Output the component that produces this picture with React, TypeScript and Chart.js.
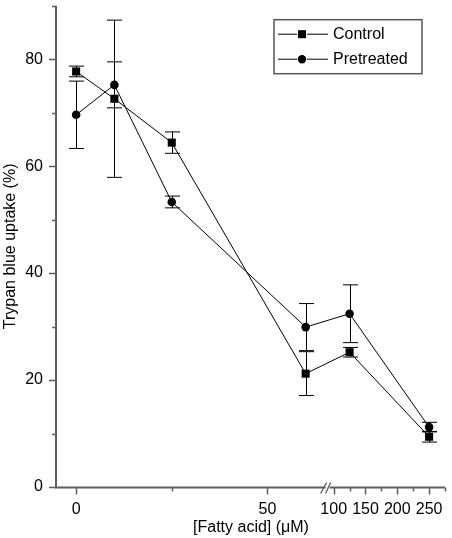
import React, { useEffect, useRef } from 'react';
import { Chart, registerables, LinearScale } from 'chart.js';

Chart.register(...registerables);

// ---- data ----
const X_VALUES = [0, 10, 25, 60, 125, 250];
const CONTROL = [77.7, 72.6, 64.4, 21.2, 25.2, 9.4];
const CONTROL_ERR = [1.0, 14.7, 2.0, 4.1, 0.9, 1.0];
const PRETREATED = [69.6, 75.2, 53.3, 29.9, 32.4, 11.2];
const PRETREATED_ERR = [6.3, 4.3, 1.1, 4.4, 5.4, 0.9];
const SERIES_LABELS = ['Control', 'Pretreated'];
const X_MAJOR_TICKS = [0, 50, 100, 150, 200, 250];
const X_MINOR_TICKS = [25, 125, 175, 225, 275];
const Y_MAJOR_TICKS = [0, 20, 40, 60, 80];
const Y_MINOR_TICKS = [10, 30, 50, 70, 90];
const X_TITLE = '[Fatty acid] (\u03bcM)';
const Y_TITLE = 'Trypan blue uptake (%)';

// ---- broken axis configuration ----
const X_MIN = -5;
const X_MAX = 275;
const BREAK_LOW = 66;
const BREAK_HIGH = 92;
const SPLIT_FRAC = 0.7;

const FONT = '"Liberation Sans", Arial, Helvetica, sans-serif';
const AXIS_COLOR = '#5e5e5e';

class BrokenScale extends LinearScale {
  static id = 'broken';
  static defaults = LinearScale.defaults;
  buildTicks() {
    return [...X_MAJOR_TICKS, ...X_MINOR_TICKS]
      .sort((a, b) => a - b)
      .map((v) => ({ value: v }));
  }
  splitPixel() {
    return this.left + this.width * SPLIT_FRAC;
  }
  getPixelForValue(value: any) {
    const v = Number(value);
    const s = this.splitPixel();
    if (v <= (BREAK_LOW + BREAK_HIGH) / 2) {
      return this.left + ((v - X_MIN) / (BREAK_LOW - X_MIN)) * (s - this.left);
    }
    return s + ((v - BREAK_HIGH) / (X_MAX - BREAK_HIGH)) * (this.right - s);
  }
  getValueForPixel(pixel: number) {
    const s = this.splitPixel();
    if (pixel <= s) {
      return X_MIN + ((pixel - this.left) / (s - this.left)) * (BREAK_LOW - X_MIN);
    }
    return BREAK_HIGH + ((pixel - s) / (this.right - s)) * (X_MAX - BREAK_HIGH);
  }
}
Chart.register(BrokenScale as any);

const errorBarPlugin = {
  id: 'errorBars',
  beforeDatasetsDraw(chart: any) {
    const { ctx } = chart;
    const xs = chart.scales.x;
    const ys = chart.scales.y;
    const sets = [
      [CONTROL, CONTROL_ERR],
      [PRETREATED, PRETREATED_ERR],
    ];
    ctx.save();
    ctx.strokeStyle = '#000';
    ctx.lineWidth = 1;
    const cap = 7.5;
    sets.forEach(([vals, errs]) => {
      vals.forEach((v, i) => {
        const x = Math.round(xs.getPixelForValue(X_VALUES[i])) + 0.5;
        const yTop = ys.getPixelForValue(v + errs[i]);
        const yBot = ys.getPixelForValue(v - errs[i]);
        ctx.beginPath();
        ctx.moveTo(x, yTop);
        ctx.lineTo(x, yBot);
        ctx.moveTo(x - cap, yTop);
        ctx.lineTo(x + cap, yTop);
        ctx.moveTo(x - cap, yBot);
        ctx.lineTo(x + cap, yBot);
        ctx.stroke();
      });
    });
    ctx.restore();
  },
};

const axesPlugin = {
  id: 'brokenAxes',
  afterDraw(chart: any) {
    const { ctx, chartArea: ca } = chart;
    const xs = chart.scales.x;
    const ys = chart.scales.y;
    const axisX = ca.left - 1;
    const axisY = ca.bottom + 0.5;
    const split = xs.splitPixel();
    ctx.save();
    ctx.strokeStyle = AXIS_COLOR;
    // axis lines
    ctx.lineWidth = 2;
    ctx.beginPath();
    ctx.moveTo(axisX, ca.top);
    ctx.lineTo(axisX, ca.bottom + 1.5);
    ctx.moveTo(axisX - 1, axisY);
    ctx.lineTo(split - 3, axisY);
    ctx.moveTo(split + 1, axisY);
    ctx.lineTo(ca.right, axisY);
    ctx.stroke();
    // break marks
    ctx.lineWidth = 1.3;
    ctx.beginPath();
    ctx.moveTo(split - 8, axisY + 6);
    ctx.lineTo(split - 2, axisY - 5);
    ctx.moveTo(split - 3, axisY + 6);
    ctx.lineTo(split + 2, axisY - 5);
    ctx.stroke();
    // ticks
    ctx.lineWidth = 1.5;
    ctx.beginPath();
    X_MAJOR_TICKS.forEach((v) => {
      const px = Math.round(xs.getPixelForValue(v)) + 0.5;
      ctx.moveTo(px, axisY);
      ctx.lineTo(px, axisY + 7);
    });
    X_MINOR_TICKS.forEach((v) => {
      const px = Math.round(xs.getPixelForValue(v)) + 0.5;
      ctx.moveTo(px, axisY);
      ctx.lineTo(px, axisY + 4);
    });
    Y_MAJOR_TICKS.forEach((v) => {
      const py = Math.round(ys.getPixelForValue(v)) + 0.5;
      ctx.moveTo(axisX, py);
      ctx.lineTo(axisX - 7, py);
    });
    Y_MINOR_TICKS.forEach((v) => {
      const py = Math.round(ys.getPixelForValue(v)) + 0.5;
      ctx.moveTo(axisX, py);
      ctx.lineTo(axisX - 4, py);
    });
    ctx.stroke();

    // legend
    const lx = ca.left + 217;
    const ly = ca.top + 14;
    const lw = 148;
    const lh = 54;
    ctx.lineWidth = 1.5;
    ctx.strokeStyle = '#555';
    ctx.strokeRect(lx, ly, lw, lh);
    const rows = [ly + 14.5, ly + 39.5];
    ctx.font = `16px ${FONT}`;
    ctx.textAlign = 'left';
    ctx.textBaseline = 'middle';
    rows.forEach((ry, i) => {
      ctx.strokeStyle = '#000';
      ctx.lineWidth = 1;
      ctx.beginPath();
      ctx.moveTo(lx + 4, ry);
      ctx.lineTo(lx + 23, ry);
      ctx.moveTo(lx + 33, ry);
      ctx.lineTo(lx + 54, ry);
      ctx.stroke();
      ctx.fillStyle = '#000';
      const mx = lx + 28;
      if (i === 0) {
        ctx.fillRect(mx - 4, ry - 4, 8, 8);
      } else {
        ctx.beginPath();
        ctx.arc(mx, ry, 4.2, 0, Math.PI * 2);
        ctx.fill();
      }
      ctx.fillText(SERIES_LABELS[i], lx + 59, ry + 0.5);
    });
    ctx.restore();
  },
};

export default function App() {
  const ref = useRef<HTMLCanvasElement | null>(null);
  useEffect(() => {
    if (!ref.current) return;
    const chart = new Chart(ref.current, {
      type: 'line',
      data: {
        datasets: [
          {
            label: SERIES_LABELS[0],
            data: X_VALUES.map((x, i) => ({ x, y: CONTROL[i] })),
            borderColor: '#000',
            backgroundColor: '#000',
            borderWidth: 1,
            pointStyle: 'rect',
            pointRadius: 5.7,
            pointBorderWidth: 0,
            tension: 0,
            clip: false as any,
          },
          {
            label: SERIES_LABELS[1],
            data: X_VALUES.map((x, i) => ({ x, y: PRETREATED[i] })),
            borderColor: '#000',
            backgroundColor: '#000',
            borderWidth: 1,
            pointStyle: 'circle',
            pointRadius: 4.3,
            pointBorderWidth: 0,
            tension: 0,
            clip: false as any,
          },
        ],
      },
      options: {
        animation: false,
        responsive: false,
        events: [],
        layout: { padding: { top: 5, right: 7, left: 0, bottom: 0 } },
        plugins: {
          legend: { display: false },
          tooltip: { enabled: false },
        },
        scales: {
          x: {
            type: 'broken' as any,
            min: X_MIN,
            max: X_MAX,
            grid: { display: false, drawTicks: false },
            border: { display: false },
            ticks: {
              autoSkip: false,
              maxRotation: 0,
              minRotation: 0,
              padding: 13,
              color: '#000',
              font: { family: FONT, size: 16 },
              callback: (v: any) => (X_MAJOR_TICKS.includes(Number(v)) ? String(v) : ''),
            },
            title: {
              display: true,
              text: X_TITLE,
              color: '#000',
              font: { family: FONT, size: 16 },
              padding: { top: 0, bottom: 1 },
            },
            afterFit: (s: any) => {
              s.height = 51;
              s.paddingLeft = 0;
              s.paddingRight = 0;
              s.paddingTop = 0;
              s.paddingBottom = 0;
            },
          } as any,
          y: {
            type: 'linear',
            min: 0,
            max: 90,
            grid: { display: false, drawTicks: false },
            border: { display: false },
            ticks: {
              stepSize: 10,
              padding: 14,
              color: '#000',
              font: { family: FONT, size: 16 },
              callback: (v: any) => (Y_MAJOR_TICKS.includes(Number(v)) ? String(v) : ''),
            },
            title: {
              display: true,
              text: Y_TITLE,
              color: '#000',
              font: { family: FONT, size: 16 },
              padding: { top: 1, bottom: 0 },
            },
            afterFit: (s: any) => {
              s.width = 57;
              s.paddingLeft = 0;
              s.paddingRight = 0;
              s.paddingTop = 0;
              s.paddingBottom = 0;
            },
          },
        },
      },
      plugins: [errorBarPlugin, axesPlugin],
    });
    return () => chart.destroy();
  }, []);
  return (
    <div style={{ position: 'absolute', left: 0, top: 0, width: 452, height: 538, background: '#fff' }}>
      <canvas ref={ref} width={452} height={538} />
    </div>
  );
}
